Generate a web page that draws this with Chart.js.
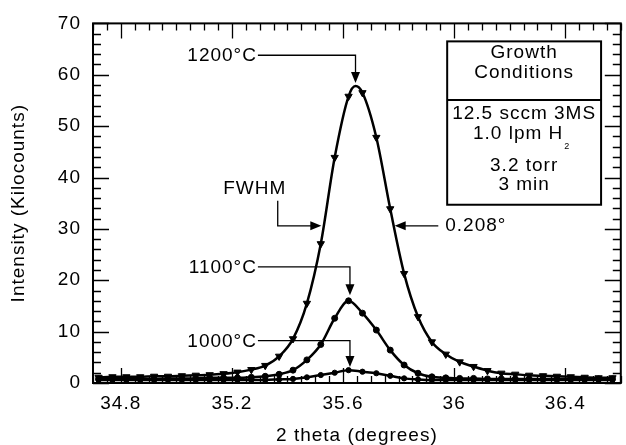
<!DOCTYPE html>
<html><head><meta charset="utf-8">
<script src="https://cdn.jsdelivr.net/npm/chart.js@4.4.0/dist/chart.umd.min.js"></script>
<style>html,body{margin:0;padding:0;background:#fff;} canvas{display:block;}</style>
</head><body>
<canvas id="c" width="626" height="445"></canvas>
<script>
// ---- data ----
const xValues = [34.72, 34.77, 34.82, 34.87, 34.92, 34.97, 35.02, 35.07, 35.12, 35.17,
                 35.22, 35.27, 35.32, 35.37, 35.42, 35.47, 35.52, 35.57, 35.62, 35.67,
                 35.72, 35.77, 35.82, 35.87, 35.92, 35.97, 36.02, 36.07, 36.12, 36.17,
                 36.22, 36.27, 36.32, 36.37, 36.42, 36.47, 36.52, 36.57];
const int1200 = [1.1, 1.2, 1.2, 1.2, 1.3, 1.3, 1.4, 1.5, 1.6, 1.8,
                 2.1, 2.6, 3.4, 5.2, 8.6, 15.5, 27.1, 43.9, 55.8, 56.5,
                 47.8, 33.9, 21.3, 12.9, 8.0, 5.6, 4.1, 3.2, 2.4, 1.9,
                 1.7, 1.5, 1.4, 1.3, 1.2, 1.1, 1.0, 1.0];
const int1100 = [0.8, 0.8, 0.8, 0.8, 0.8, 0.9, 0.9, 0.9, 1.0, 1.0,
                 1.0, 1.1, 1.3, 1.7, 2.5, 4.5, 7.5, 12.6, 16.0, 13.6,
                 10.3, 6.4, 3.5, 1.9, 1.2, 1.0, 0.9, 0.9, 0.8, 0.8,
                 0.8, 0.8, 0.8, 0.8, 0.8, 0.8, 0.8, 0.8];
const int1000 = [0.6, 0.6, 0.6, 0.6, 0.6, 0.6, 0.6, 0.6, 0.6, 0.6,
                 0.6, 0.6, 0.6, 0.7, 0.8, 1.1, 1.55, 2.0, 2.5, 2.2,
                 1.9, 1.4, 0.9, 0.7, 0.6, 0.6, 0.6, 0.6, 0.6, 0.6,
                 0.6, 0.6, 0.6, 0.6, 0.6, 0.6, 0.6, 0.6];
const apex1200 = { x: 35.645, y: 57.8 };
const seriesNames = ['1200°C', '1100°C', '1000°C'];
const xTickValues = [34.8, 35.2, 35.6, 36.0, 36.4];
const xTickLabels = ['34.8', '35.2', '35.6', '36', '36.4'];
const yTickValues = [0, 10, 20, 30, 40, 50, 60, 70];
const yTickLabels = ['0', '10', '20', '30', '40', '50', '60', '70'];
const legendLines = ['Growth', 'Conditions', '12.5 sccm 3MS', '1.0 lpm H', '3.2 torr', '3 min'];
const fwhmLabel = 'FWHM';
const fwhmValue = '0.208°';

const FONT = '"Liberation Sans", Arial, Helvetica, sans-serif';
const FS = 19;

function buildPoints(xs, ys, extra) {
  const pts = xs.map((x, i) => ({ x: x, y: ys[i], m: true }));
  if (extra) pts.push({ x: extra.x, y: extra.y, m: false });
  pts.sort((a, b) => a.x - b.x);
  return pts;
}

function radiusFn(r) {
  return ctx => (ctx.raw && ctx.raw.m === false) ? 0 : r;
}

const spacingPlugin = {
  id: 'spacing',
  beforeUpdate(chart) { chart.ctx.letterSpacing = '1px'; },
  beforeDraw(chart) { chart.ctx.letterSpacing = '1px'; }
};

function arrowHead(ctx, x, y, dir) {
  const L = 11, W = 4.5;
  ctx.beginPath();
  if (dir === 'down') { ctx.moveTo(x, y); ctx.lineTo(x - W, y - L); ctx.lineTo(x + W, y - L); }
  else if (dir === 'right') { ctx.moveTo(x, y); ctx.lineTo(x - L, y - W); ctx.lineTo(x - L, y + W); }
  else if (dir === 'left') { ctx.moveTo(x, y); ctx.lineTo(x + L, y - W); ctx.lineTo(x + L, y + W); }
  ctx.closePath();
  ctx.fill();
}

const decorPlugin = {
  id: 'decor',
  afterDraw(chart) {
    const { ctx, chartArea: a, scales: { x, y } } = chart;
    const X = v => x.getPixelForValue(v), Y = v => y.getPixelForValue(v);
    ctx.save();
    ctx.letterSpacing = '1px';
    ctx.strokeStyle = '#000';
    ctx.fillStyle = '#000';
    // inward ticks on all sides
    ctx.lineWidth = 1.3;
    ctx.beginPath();
    for (let i = 0; i <= 38; i++) {
      const v = 34.7 + 0.05 * i;
      const q = (v - 34.8) / 0.4;
      const major = Math.abs(q - Math.round(q)) < 1e-6;
      const len = major ? 15 : 7;
      const px = Math.round(X(v)) + 0.5;
      ctx.moveTo(px, a.bottom); ctx.lineTo(px, a.bottom - len);
      ctx.moveTo(px, a.top); ctx.lineTo(px, a.top + len);
    }
    for (let i = 0; i <= 35; i++) {
      const v = 2 * i;
      const major = v % 10 === 0;
      const len = major ? 16 : 8;
      const py = Math.round(Y(v)) + 0.5;
      ctx.moveTo(a.left, py); ctx.lineTo(a.left + len, py);
      ctx.moveTo(a.right, py); ctx.lineTo(a.right - len, py);
    }
    ctx.stroke();
    // frame
    ctx.lineWidth = 2;
    ctx.strokeRect(a.left, a.top, a.right - a.left, a.bottom - a.top);

    // annotations
    ctx.font = FS + 'px ' + FONT;
    ctx.textBaseline = 'middle';
    ctx.lineWidth = 1.3;
    const leaders = [
      { text: seriesNames[0], tx: 35.29, ty: 63.8, ax: 35.645, tip: 58.4 },
      { text: seriesNames[1], tx: 35.29, ty: 22.6, ax: 35.625, tip: 17.1 },
      { text: seriesNames[2], tx: 35.29, ty: 8.25, ax: 35.625, tip: 3.1 }
    ];
    leaders.forEach(l => {
      ctx.textAlign = 'right';
      ctx.fillText(l.text, X(l.tx), Y(l.ty) + 1);
      ctx.beginPath();
      ctx.moveTo(X(l.tx) + 1, Y(l.ty));
      ctx.lineTo(X(l.ax), Y(l.ty));
      ctx.lineTo(X(l.ax), Y(l.tip) - 10);
      ctx.stroke();
      arrowHead(ctx, X(l.ax), Y(l.tip), 'down');
    });
    // FWHM
    ctx.textAlign = 'center';
    ctx.fillText(fwhmLabel, X(35.282), Y(37.8));
    ctx.beginPath();
    ctx.moveTo(X(35.365), Y(35.5));
    ctx.lineTo(X(35.365), Y(30.6));
    ctx.lineTo(X(35.522) - 10, Y(30.6));
    ctx.stroke();
    arrowHead(ctx, X(35.522), Y(30.6), 'right');
    ctx.textAlign = 'left';
    ctx.fillText(fwhmValue, X(35.968), Y(30.6));
    ctx.beginPath();
    ctx.moveTo(X(35.943), Y(30.6));
    ctx.lineTo(X(35.786) + 10, Y(30.6));
    ctx.stroke();
    arrowHead(ctx, X(35.786), Y(30.6), 'left');

    // growth-conditions box
    const bx1 = X(35.975), bx2 = X(36.529), by1 = Y(66.5), by2 = Y(34.7), bdiv = Y(55.1);
    ctx.fillStyle = '#fff';
    ctx.fillRect(bx1, by1, bx2 - bx1, by2 - by1);
    ctx.fillStyle = '#000';
    ctx.lineWidth = 2;
    ctx.strokeRect(bx1, by1, bx2 - bx1, by2 - by1);
    ctx.beginPath(); ctx.moveTo(bx1, bdiv); ctx.lineTo(bx2, bdiv); ctx.stroke();
    const cx = (bx1 + bx2) / 2;
    const lineY = [52, 72, 113, 133, 165, 184];
    ctx.textAlign = 'center';
    legendLines.forEach((t, i) => {
      const off = (i === 3) ? -6 : 0;
      ctx.fillText(t, cx + off, lineY[i] + 1);
    });
    // subscript 2 of H2
    const w3 = ctx.measureText(legendLines[3]).width;
    ctx.font = '9px ' + FONT;
    ctx.textAlign = 'left';
    ctx.fillText('2', cx - 6 + w3 / 2 + 1, 147);
    ctx.restore();
  }
};

const common = { showLine: true, borderColor: '#000', borderWidth: 2.5, pointBackgroundColor: '#000',
                 pointBorderColor: '#000', pointBorderWidth: 1, tension: 0.4, cubicInterpolationMode: 'monotone' };

new Chart(document.getElementById('c'), {
  type: 'scatter',
  data: {
    datasets: [
      Object.assign({ label: seriesNames[0], data: buildPoints(xValues, int1200, apex1200),
        pointStyle: 'triangle', rotation: 180, pointRadius: radiusFn(4.2) }, common),
      Object.assign({ label: seriesNames[1], data: buildPoints(xValues, int1100, null),
        pointStyle: 'circle', pointRadius: radiusFn(3) }, common),
      Object.assign({ label: seriesNames[2], data: buildPoints(xValues, int1000, null),
        pointStyle: 'circle', pointRadius: radiusFn(2.6) }, common)
    ]
  },
  options: {
    responsive: false, animation: false, devicePixelRatio: 1,
    layout: { padding: { top: 22, right: 1, left: 0, bottom: 0 } },
    plugins: { legend: { display: false }, tooltip: { enabled: false } },
    scales: {
      x: {
        type: 'linear', min: 34.7, max: 36.6,
        grid: { display: false, drawTicks: false, tickLength: 0 },
        border: { display: false },
        afterBuildTicks: s => { s.ticks = xTickValues.map(v => ({ value: v })); },
        ticks: { callback: (v, i) => xTickLabels[i], font: { family: FONT, size: FS }, color: '#000',
                 padding: 9, maxRotation: 0, autoSkip: false },
        title: { display: true, text: '2 theta (degrees)', font: { family: FONT, size: FS }, color: '#000',
                 padding: { top: 0, bottom: -2 } },
        afterFit: s => { s.height = 62; }
      },
      y: {
        type: 'linear', min: 0, max: 70,
        grid: { display: false, drawTicks: false, tickLength: 0 },
        border: { display: false },
        afterBuildTicks: s => { s.ticks = yTickValues.map(v => ({ value: v })); },
        ticks: { callback: (v, i) => yTickLabels[i], font: { family: FONT, size: FS }, color: '#000',
                 padding: 12, autoSkip: false },
        title: { display: true, text: 'Intensity (Kilocounts)', font: { family: FONT, size: FS }, color: '#000',
                 padding: { top: 7, bottom: 0 } },
        afterFit: s => { s.width = 93; }
      }
    }
  },
  plugins: [spacingPlugin, decorPlugin]
});
</script>
</body></html>
